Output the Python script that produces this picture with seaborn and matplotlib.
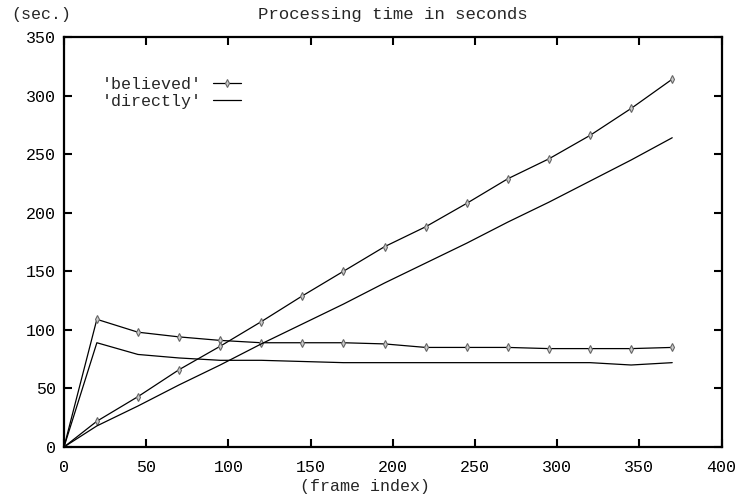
import numpy as np
import pandas as pd
import seaborn as sns
import matplotlib.pyplot as plt

frames = [0, 20, 45, 70, 95, 120, 145, 170, 195, 220, 245, 270, 295, 320, 345, 370]

believed_frame = [0, 109, 98, 94, 91, 89, 89, 89, 88, 85, 85, 85, 84, 84, 84, 85]
believed_total = [0, 22, 43, 66, 86, 107, 129, 150, 171, 188, 208, 229, 246, 266, 289, 314]
directly_frame = [0, 89, 79, 76, 74, 74, 73, 72, 72, 72, 72, 72, 72, 72, 70, 72]
directly_total = [0, 18, 35, 53, 70, 88, 105, 122, 140, 157, 174, 192, 209, 227, 245, 264]

df = pd.DataFrame({'frame': frames,
                   'believed_frame': believed_frame, 'believed_total': believed_total,
                   'directly_frame': directly_frame, 'directly_total': directly_total})

sns.set_theme(style='ticks')
plt.rcParams['font.family'] = ['Liberation Mono', 'DejaVu Sans Mono']

fig = plt.figure(figsize=(7.38, 5.0), dpi=100)
ax = fig.add_axes([0.0867, 0.106, 0.891, 0.82])

mk = dict(marker='d', markersize=4.2, markerfacecolor='#cccccc', markeredgecolor='#666666', markeredgewidth=0.8)

sns.lineplot(data=df, x='frame', y='believed_frame', ax=ax, color='black', linewidth=0.9, label="'believed'", **mk)
sns.lineplot(data=df, x='frame', y='believed_total', ax=ax, color='black', linewidth=0.9, **mk)
sns.lineplot(data=df, x='frame', y='directly_frame', ax=ax, color='black', linewidth=0.9, label="'directly'")
sns.lineplot(data=df, x='frame', y='directly_total', ax=ax, color='black', linewidth=0.9)

ax.set_xlim(0, 400)
ax.set_ylim(0, 350)
ax.set_xticks(range(0, 401, 50))
ax.set_yticks(range(0, 351, 50))
ax.set_xlabel('')
ax.set_ylabel('')
ax.tick_params(direction='in', length=6, width=1.5, top=True, right=True, labelsize=12, colors='black', pad=6)
ax.tick_params(axis='x', pad=9)
for s in ax.spines.values():
    s.set_linewidth(1.6)
    s.set_color('black')

fig.text(0.533, 0.972, 'Processing time in seconds', ha='center', va='center', fontsize=12.5)
fig.text(0.015, 0.972, '(sec.)', ha='left', va='center', fontsize=12)
fig.text(0.4946, 0.026, '(frame index)', ha='center', va='center', fontsize=12)

leg = ax.legend(loc='upper left', bbox_to_anchor=(0.034, 0.94), frameon=False, markerfirst=False,
                fontsize=12, handlelength=1.65, labelspacing=0.15, handletextpad=0.7)

fig.savefig('out.png', dpi=100)
